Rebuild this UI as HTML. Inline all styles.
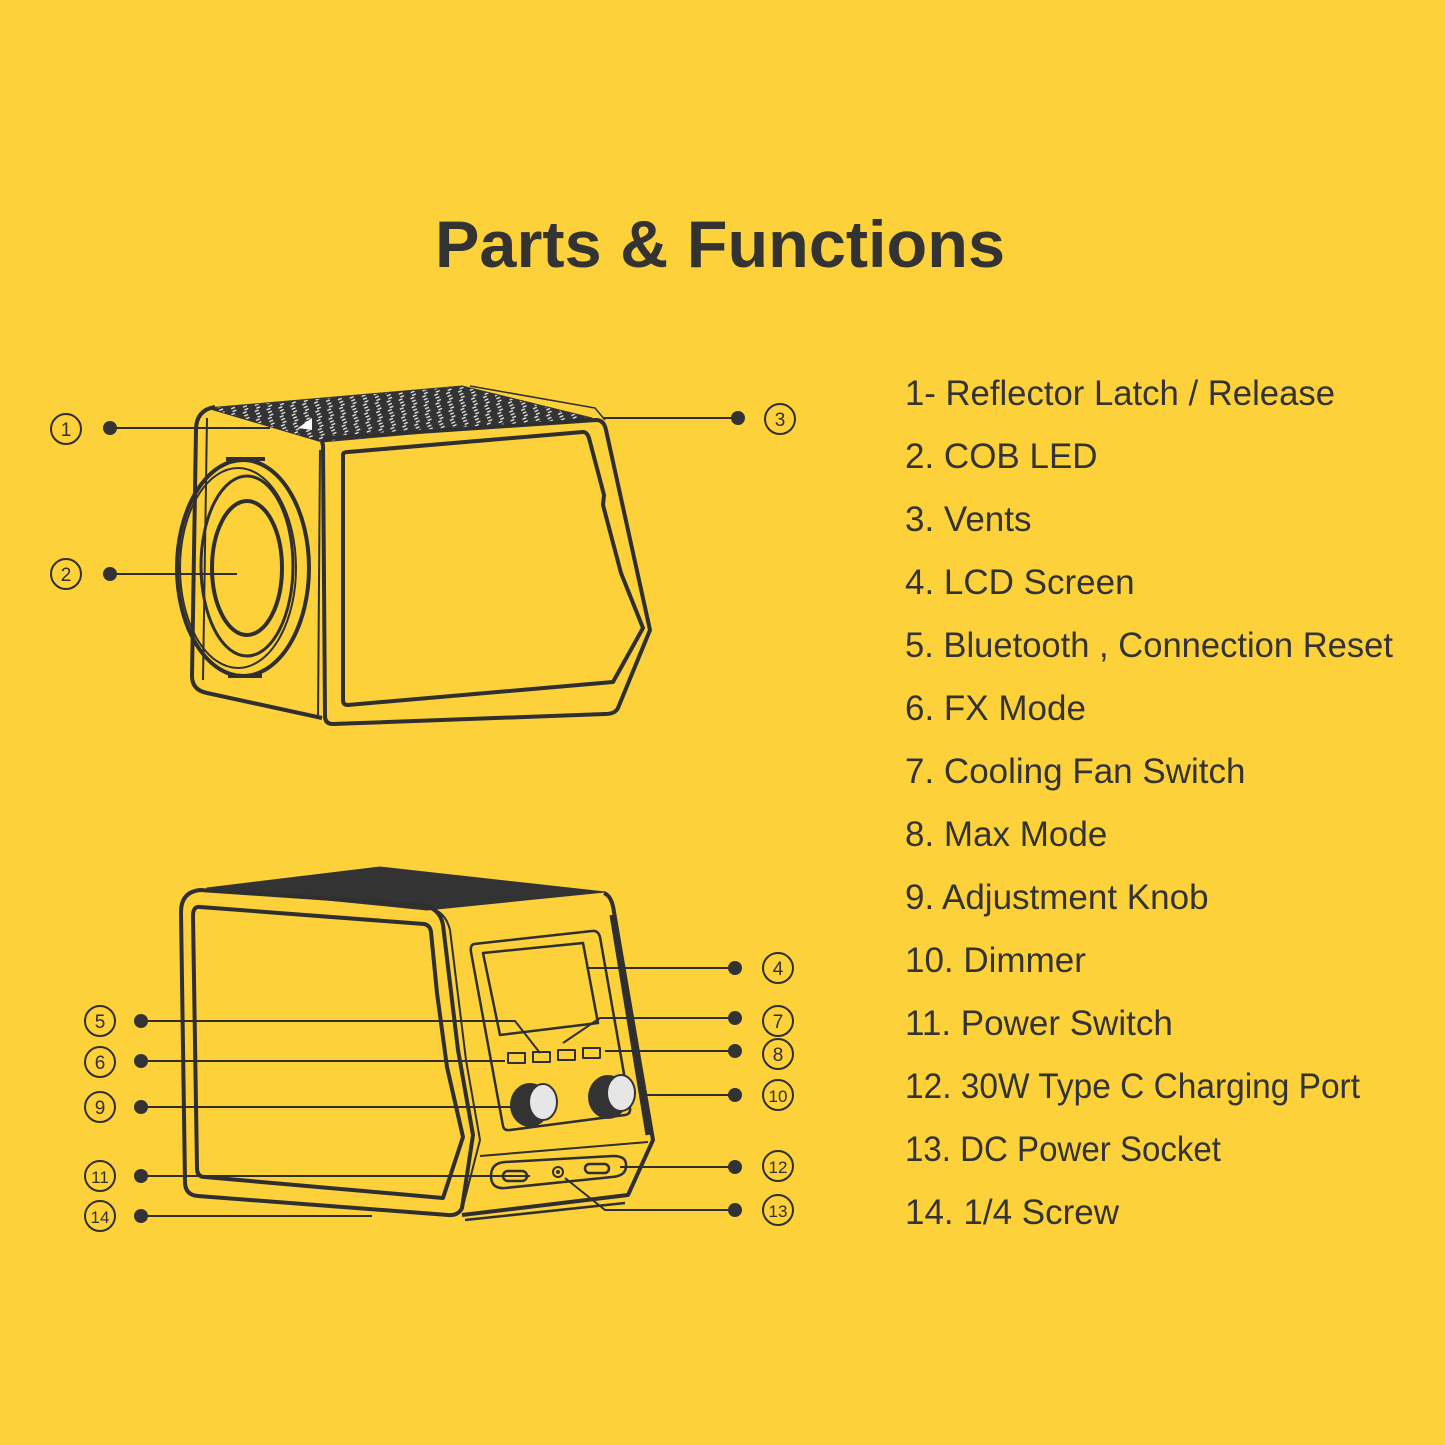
<!DOCTYPE html>
<html><head><meta charset="utf-8"><style>
html,body{margin:0;padding:0;background:#FDD13A;}
svg{display:block;}
.lbl{font-family:"Liberation Sans Narrow","Liberation Sans",sans-serif;font-size:35px;fill:#333;}
.n{font-family:"Liberation Sans Narrow","Liberation Sans",sans-serif;font-size:19px;fill:#2f2f2f;text-anchor:middle;}
</style></head><body>
<svg width="1445" height="1445" viewBox="0 0 1445 1445" xmlns="http://www.w3.org/2000/svg">
<defs>
<pattern id="vent" width="12" height="9" patternUnits="userSpaceOnUse" patternTransform="rotate(-8)">
<rect width="12" height="9" fill="#333"/>
<path d="M3,2 L7,1 M4,5 L8,4 M5,8 L9,7" stroke="#eee" stroke-width="1.3"/>
</pattern>
</defs>
<rect width="1445" height="1445" fill="#FDD13A"/>
<text x="720" y="267" text-anchor="middle" font-family="Liberation Sans, sans-serif" font-weight="bold" font-size="66" fill="#333" textLength="570" lengthAdjust="spacingAndGlyphs">Parts &amp; Functions</text>

<g class="lbl">
<text x="905" y="405" textLength="430" lengthAdjust="spacingAndGlyphs">1-  Reflector Latch / Release</text>
<text x="905" y="468">2.  COB LED</text>
<text x="905" y="531">3.  Vents</text>
<text x="905" y="594">4.  LCD Screen</text>
<text x="905" y="657" textLength="488" lengthAdjust="spacingAndGlyphs">5.  Bluetooth , Connection Reset</text>
<text x="905" y="720">6.  FX Mode</text>
<text x="905" y="783">7.  Cooling Fan Switch</text>
<text x="905" y="846">8.  Max Mode</text>
<text x="905" y="909">9.  Adjustment Knob</text>
<text x="905" y="972">10. Dimmer</text>
<text x="905" y="1035">11. Power Switch</text>
<text x="905" y="1098" textLength="455" lengthAdjust="spacingAndGlyphs">12. 30W Type C Charging Port</text>
<text x="905" y="1161" textLength="316" lengthAdjust="spacingAndGlyphs">13. DC Power Socket</text>
<text x="905" y="1224">14. 1/4 Screw</text>
</g>

<g fill="none" stroke="#2f2f2f" stroke-linejoin="round">
<!-- TOP DEVICE -->
<polygon points="207,408 462,386 592,418 322,442" fill="url(#vent)" stroke="#333"/>
<path d="M215,407 Q196,410 196,430 L192,676 Q192,690 207,693 L322,718" stroke-width="4"/>
<path d="M207,418 L203,680" stroke-width="2"/>
<path d="M470,386 L595,408 L605,420" stroke-width="1.5"/>
<path d="M323,445 Q320,440 330,438 L596,420 Q604,420 606,430 L650,630 L618,708 Q615,714 605,714 L333,724 Q325,724 325,716 Z" stroke-width="4"/>
<path d="M320,450 L318,718" stroke-width="2"/>
<path d="M343,455 Q343,452 348,452 L583,432 Q587,432 589,438 L604,495 L603,505 L621,573 L643,628 L613,682 L348,705 Q343,705 343,700 Z" stroke-width="4"/>
<ellipse cx="243" cy="568" rx="66" ry="108" stroke-width="4"/>
<ellipse cx="238" cy="568" rx="58" ry="100" stroke-width="2"/>
<ellipse cx="247" cy="566" rx="46" ry="90" stroke-width="3"/>
<ellipse cx="247" cy="568" rx="35" ry="67" stroke-width="4"/>
<path d="M226,459 L265,459 M228,676 L262,676" stroke-width="4"/>
<polygon points="298,428 312,418 312,430" fill="#fff" stroke="none"/>

<!-- BOTTOM DEVICE -->
<polygon points="207,888 380,867 605,892 427,910" fill="#333" stroke="#333"/>
<path d="M200,890 L420,905 Q440,907 443,925 L458,1050 L473,1135 L462,1208 Q458,1216 448,1215 L198,1196 Q185,1195 185,1182 L181,912 Q181,892 200,890 Z" stroke-width="4"/>
<path d="M200,907 L424,924 Q430,925 431,932 L437,993 L447,1067 L463,1137 L443,1198 L205,1177 Q197,1177 197,1168 L193,916 Q193,906 200,907 Z" stroke-width="4"/>
<path d="M428,908 Q445,910 450,930 L466,1060 L480,1140 L462,1210" stroke-width="2"/>
<path d="M604,893 Q612,896 614,912 L653,1140 L628,1195 L462,1215" stroke-width="4"/>
<path d="M612,915 L648,1135" stroke-width="5"/>
<path d="M474,944 Q470,945 471,952 L503,1126 Q504,1131 510,1130 L625,1115 Q631,1114 630,1108 L600,937 Q598,930 592,931 Z" stroke-width="2.5"/>
<path d="M483,953 L583,943 L598,1023 L500,1035 Z" stroke-width="2.5"/>
<rect x="508" y="1053" width="17" height="10" stroke-width="2"/>
<rect x="533" y="1052" width="17" height="10" stroke-width="2"/>
<rect x="558" y="1050" width="17" height="10" stroke-width="2"/>
<rect x="583" y="1048" width="17" height="10" stroke-width="2"/>
<ellipse cx="530" cy="1105" rx="20" ry="22" fill="#333" stroke="none"/>
<ellipse cx="543" cy="1102" rx="14" ry="18" fill="#e6e6e6" stroke="#333" stroke-width="2"/>
<ellipse cx="608" cy="1097" rx="20" ry="22" fill="#333" stroke="none"/>
<ellipse cx="621" cy="1093" rx="14" ry="18" fill="#e6e6e6" stroke="#333" stroke-width="2"/>
<path d="M480,1156 L648,1142" stroke-width="2"/>
<path d="M505,1162 L613,1156 Q627,1156 626,1166 Q626,1176 612,1177 L505,1188 Q491,1189 491,1176 Q491,1163 505,1162 Z" stroke-width="2.5"/>
<rect x="503" y="1171" width="24" height="10" rx="5" stroke-width="2.5"/>
<rect x="585" y="1164" width="24" height="9" rx="4.5" stroke-width="2.5"/>
<circle cx="558" cy="1172" r="5" stroke-width="2"/>
<circle cx="558" cy="1172" r="2" fill="#333" stroke="none"/>
<path d="M465,1220 L625,1203" stroke-width="2.5"/>

<!-- leader lines -->
<g stroke-width="2">
<path d="M110,428 L270,428"/>
<path d="M110,574 L237,574"/>
<path d="M738,418 L603,418"/>
<path d="M735,968 L588,968"/>
<path d="M141,1021 L515,1021 L540,1053"/>
<path d="M141,1061 L505,1061"/>
<path d="M735,1018 L600,1018 L563,1043"/>
<path d="M735,1051 L605,1051"/>
<path d="M141,1107 L512,1107"/>
<path d="M735,1095 L640,1095"/>
<path d="M141,1176 L530,1176"/>
<path d="M735,1167 L620,1167"/>
<path d="M735,1210 L605,1210 L565,1178"/>
<path d="M141,1216 L372,1216"/>
</g>
</g>
<g fill="#333">
<circle cx="110" cy="428" r="7"/><circle cx="110" cy="574" r="7"/><circle cx="738" cy="418" r="7"/>
<circle cx="735" cy="968" r="7"/><circle cx="141" cy="1021" r="7"/><circle cx="141" cy="1061" r="7"/>
<circle cx="735" cy="1018" r="7"/><circle cx="735" cy="1051" r="7"/><circle cx="141" cy="1107" r="7"/>
<circle cx="735" cy="1095" r="7"/><circle cx="141" cy="1176" r="7"/><circle cx="735" cy="1167" r="7"/>
<circle cx="735" cy="1210" r="7"/><circle cx="141" cy="1216" r="7"/>
</g>
<g fill="none" stroke="#2f2f2f" stroke-width="2">
<circle cx="66" cy="429" r="15"/><circle cx="66" cy="574" r="15"/><circle cx="780" cy="419" r="15"/>
<circle cx="778" cy="968" r="15"/><circle cx="100" cy="1021" r="15"/><circle cx="100" cy="1062" r="15"/>
<circle cx="778" cy="1021" r="15"/><circle cx="778" cy="1054" r="15"/><circle cx="100" cy="1107" r="15"/>
<circle cx="778" cy="1095" r="15"/><circle cx="100" cy="1176" r="15"/><circle cx="778" cy="1166" r="15"/>
<circle cx="778" cy="1210" r="15"/><circle cx="100" cy="1216" r="15"/>
</g>
<g class="n">
<text x="66" y="436">1</text><text x="66" y="581">2</text><text x="780" y="426">3</text>
<text x="778" y="975">4</text><text x="100" y="1028">5</text><text x="100" y="1069">6</text>
<text x="778" y="1028">7</text><text x="778" y="1061">8</text><text x="100" y="1114">9</text>
<text x="778" y="1102" font-size="17">10</text><text x="100" y="1183" font-size="17">11</text><text x="778" y="1173" font-size="17">12</text>
<text x="778" y="1217" font-size="17">13</text><text x="100" y="1223" font-size="17">14</text>
</g>
</svg>
</body></html>
